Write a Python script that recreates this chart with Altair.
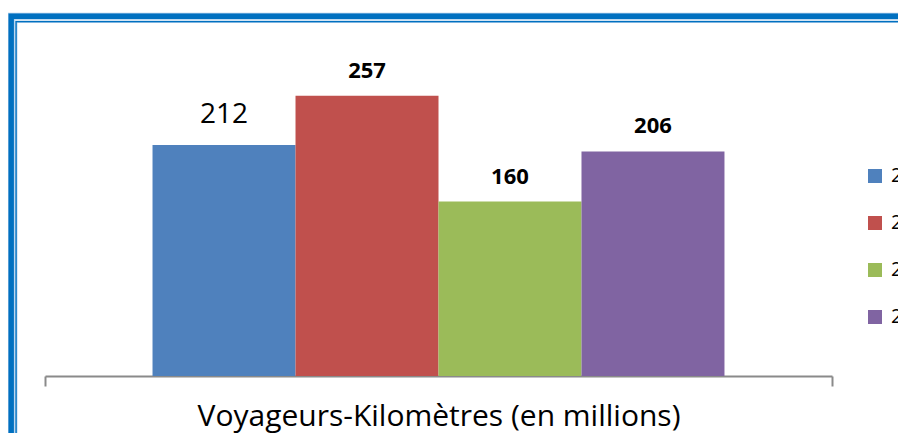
import altair as alt
import pandas as pd

# ---- data ----
categorie = ["Voyageurs-Kilomètres (en millions)"]
annees = ["2010", "2011", "2012", "2013"]
valeurs = [212, 257, 160, 206]
couleurs = ["#4F81BD", "#C0504D", "#9BBB59", "#8064A2"]

df = pd.DataFrame({
    "cat": categorie * len(annees),
    "annee": annees,
    "val": valeurs,
})

W, H = 787, 327
PL, PT = 37, 41
TOTW, TOTH = 890, 425

x_enc = alt.X(
    "cat:N",
    scale=alt.Scale(paddingInner=0, paddingOuter=0),
    axis=alt.Axis(
        title=None, tickBand="extent", tickSize=10, tickWidth=2, tickColor="#8a8a8a",
        domainColor="#8a8a8a", domainWidth=2, labelAngle=0, labelFont="Open Sans",
        labelFontSize=30, labelColor="#000000", labelPadding=15, labelLimit=2000,
        grid=False,
    ),
)
xo_enc = alt.XOffset("annee:N", scale=alt.Scale(paddingInner=0, paddingOuter=0.752))
y_enc = alt.Y("val:Q", scale=alt.Scale(domain=[0, 300]), axis=None)

base = alt.Chart(df).encode(x=x_enc, xOffset=xo_enc, y=y_enc)

bars = base.mark_bar().encode(
    color=alt.Color(
        "annee:N",
        scale=alt.Scale(domain=annees, range=couleurs),
        legend=alt.Legend(
            title=None, orient="none", legendX=820, legendY=117,
            symbolType="square", symbolSize=196, symbolStrokeWidth=0,
            labelFont="Open Sans", labelFontSize=20, labelColor="#000000",
            labelOffset=6, rowPadding=27, labelLimit=500, padding=0,
        ),
    )
)

lab_big = base.transform_filter(alt.datum.annee == annees[0]).mark_text(
    baseline="alphabetic", dy=-22, font="Open Sans", fontSize=28, fontWeight=500,
    color="#000000"
).encode(text="val:Q")

lab_bold = base.transform_filter(alt.datum.annee != annees[0]).mark_text(
    baseline="alphabetic", dy=-18, font="Open Sans", fontSize=22, fontWeight="bold",
    color="#000000"
).encode(text="val:Q")

one = pd.DataFrame({"k": [0]})
def frame(off, sw, color):
    return alt.Chart(one).mark_rect(fill=None, stroke=color, strokeWidth=sw).encode(
        x=alt.value(off[0] - PL), y=alt.value(off[1] - PT),
        x2=alt.value(1200), y2=alt.value(800),
    )

borders = alt.layer(
    frame((11.2 - 8, 16.3 - 8), 7, "#a8cbea"),
    frame((11.2 - 8, 16.3 - 8), 5.4, "#0070C0"),
    frame((16.1 - 8, 21.7 - 8), 2.6, "#a8cbea"),
    frame((16.1 - 8, 21.7 - 8), 1.3, "#0070C0"),
)

chart = alt.layer(borders, bars, lab_big, lab_bold).properties(
    width=W, height=H,
    background="#ffffff",
    autosize=alt.AutoSizeParams(type="none"),
    padding={"left": PL, "top": PT, "right": TOTW - PL - W, "bottom": TOTH - PT - H},
).configure_view(strokeWidth=0, stroke="transparent")

chart.save("out.html", embed_options={"renderer": "svg", "actions": False})
